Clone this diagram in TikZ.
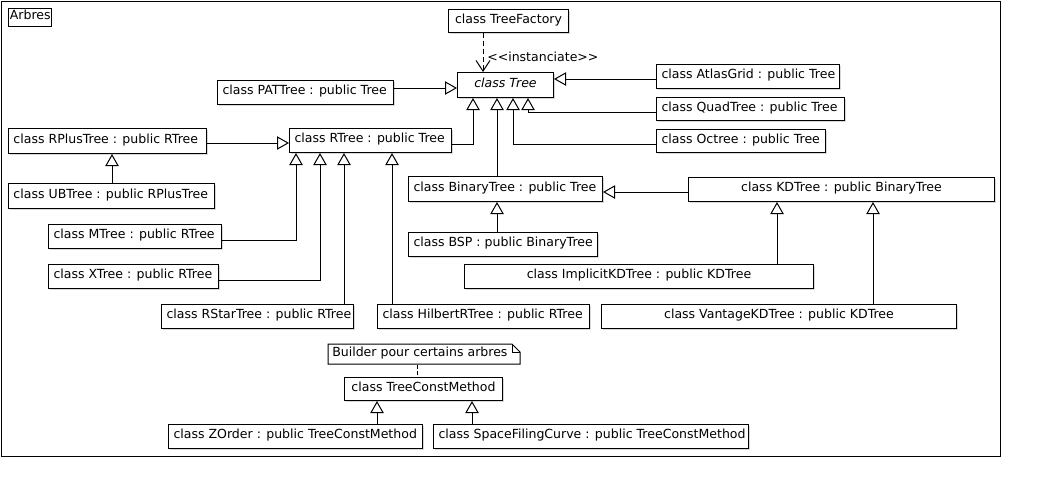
\documentclass[tikz,border=0pt]{standalone}
\usepackage{fontspec}
\setmainfont{DejaVu Sans}
\usetikzlibrary{arrows.meta,shadows}
\tikzset{
  umlfont/.style={font=\fontsize{9.4}{11}\selectfont},
  umlcls/.style={draw, fill=white, line width=0.75pt, inner xsep=3.75pt, inner ysep=0pt,
    text height=5.6pt, text depth=2.4pt, umlfont,
    drop shadow={shadow xshift=1.1pt, shadow yshift=-1.1pt, fill=black!15, opacity=1}},
  inh/.style={line width=0.75pt, -{Triangle[open, length=9pt, width=10pt]}},
  dep/.style={line width=0.75pt, dash pattern=on 4pt off 2pt, -{Straight Barb[length=8pt, width=10.5pt]}},
  conn/.style={line width=0.75pt},
}
\newcommand\umlbox[7]{%
  \node[umlcls, anchor=north west,
        minimum width={(#4-#2)*0.75pt}, minimum height={(#5-#3)*0.75pt}] (#1) at (#2,#3)
        {\makebox[\dimexpr 3pt*(#4-#2-10)/4\relax][#6]{#7}};}
\begin{document}
\begin{tikzpicture}[x=0.75pt,y=-0.75pt]
\useasboundingbox (0,0) rectangle (1038,494);
\draw[line width=0.75pt] (1,1) rectangle (1000,456);
\node[draw, line width=0.75pt, anchor=north west, inner xsep=1pt, inner ysep=0pt,
      minimum width={42*0.75pt}, minimum height={18*0.75pt}, text height=5.4pt, text depth=2pt,
      umlfont] (arbres) at (8,8) {Arbres};

\umlbox{fac}{448}{9}{568}{32}{c}{class TreeFactory}
\umlbox{tree}{457}{72}{553}{97}{c}{\textit{class Tree}}
\umlbox{pat}{217}{80}{393}{104}{l}{class PATTree : public Tree}
\umlbox{atlas}{656}{64}{839}{88}{l}{class AtlasGrid : public Tree}
\umlbox{quad}{656}{97}{844}{120}{l}{class QuadTree : public Tree}
\umlbox{oct}{656}{129}{825}{152}{l}{class Octree : public Tree}
\umlbox{rplus}{8}{128}{206}{153}{l}{class RPlusTree : public RTree}
\umlbox{rtree}{289}{128}{451}{152}{l}{class RTree : public Tree}
\umlbox{ub}{8}{183}{214}{208}{l}{class UBTree : public RPlusTree}
\umlbox{bin}{408}{176}{602}{201}{l}{class BinaryTree : public Tree}
\umlbox{kd}{688}{177}{994}{201}{c}{class KDTree : public BinaryTree}
\umlbox{mtree}{48}{224}{221}{248}{l}{class MTree : public RTree}
\umlbox{bsp}{408}{232}{597}{256}{l}{class BSP : public BinaryTree}
\umlbox{ikd}{464}{264}{813}{288}{c}{class ImplicitKDTree : public KDTree}
\umlbox{xtree}{48}{264}{218}{288}{l}{class XTree : public RTree}
\umlbox{rstar}{161}{304}{353}{328}{l}{class RStarTree : public RTree}
\umlbox{hil}{377}{304}{589}{328}{l}{class HilbertRTree : public RTree}
\umlbox{vkd}{601}{304}{956}{328}{c}{class VantageKDTree : public KDTree}
\umlbox{tcm}{344}{377}{502}{400}{c}{class TreeConstMethod}
\umlbox{zo}{168}{424}{422}{448}{l}{class ZOrder : public TreeConstMethod}
\umlbox{sfc}{433}{424}{748}{448}{l}{class SpaceFilingCurve : public TreeConstMethod}

% note
\coordinate (noteNW) at (328,344);
\coordinate (noteSE) at (520,364);
\draw[line width=0.75pt, fill=white] (noteNW) -- ([xshift=-6pt]noteNW -| noteSE)
  -- ([yshift=-6pt]noteNW -| noteSE) -- (noteSE) -- (noteNW |- noteSE) -- cycle;
\draw[line width=0.75pt] ([xshift=-6pt]noteNW -| noteSE) |- ([yshift=-6pt]noteNW -| noteSE);
\node[anchor=north west, inner xsep=3pt, inner ysep=0pt, minimum width={192*0.75pt},
      minimum height={20*0.75pt}, text height=5.6pt, text depth=2.2pt, umlfont] (note) at (noteNW)
      {\makebox[\dimexpr 3pt*184/4\relax][l]{Builder pour certains arbres}};
\draw[conn, dash pattern=on 3pt off 2pt] (note.south -| 417,0) -- (tcm.north -| 417,0);

% dependency
\draw[dep] (fac.south -| 483,0) -- (tree.north -| 483,0);
\node[anchor=west, inner sep=0pt, umlfont] (instlbl) at (487,57)
  {<\kern0pt<\kern0pt instanciate>\kern0pt>};

% generalisations to Tree
\draw[inh] (pat.east |- 0,88) -- (tree.west |- 0,88);
\draw[inh] (atlas.west |- 0,79) -- (tree.east |- 0,79);
\draw[inh] (quad.west |- 0,112) -| (tree.south -| 528,0);
\draw[inh] (oct.west |- 0,144) -| (tree.south -| 513,0);
\draw[inh] (bin.north -| 497,0) -- (tree.south -| 497,0);
\draw[inh] (rtree.east |- 0,144) -| (tree.south -| 473,0);

% RTree family
\draw[inh] (rplus.east |- 0,143) -- (rtree.west |- 0,143);
\draw[inh] (ub.north -| 112,0) -- (rplus.south -| 112,0);
\draw[inh] (mtree.east |- 0,240) -| (rtree.south -| 296,0);
\draw[inh] (xtree.east |- 0,280) -| (rtree.south -| 320,0);
\draw[inh] (rstar.north -| 344,0) -- (rtree.south -| 344,0);
\draw[inh] (hil.north -| 392,0) -- (rtree.south -| 392,0);

% BinaryTree family
\draw[inh] (kd.west |- 0,192) -- (bin.east |- 0,192);
\draw[inh] (bsp.north -| 497,0) -- (bin.south -| 497,0);
\draw[inh] (ikd.north -| 777,0) -- (kd.south -| 777,0);
\draw[inh] (vkd.north -| 873,0) -- (kd.south -| 873,0);

% TreeConstMethod family
\draw[inh] (zo.north -| 377,0) -- (tcm.south -| 377,0);
\draw[inh] (sfc.north -| 472,0) -- (tcm.south -| 472,0);
\end{tikzpicture}
\end{document}
